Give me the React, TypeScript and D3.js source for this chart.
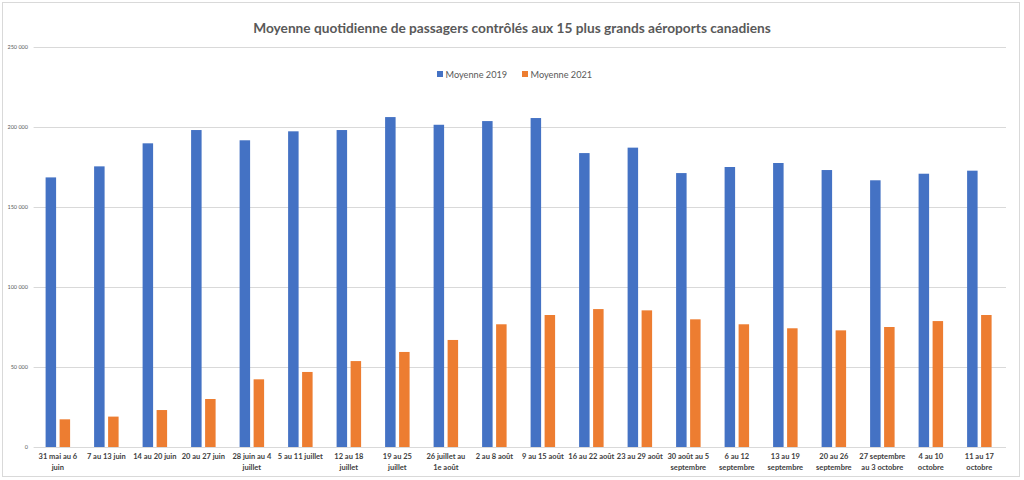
import React from "react";
import * as d3 from "d3";

const categories: string[] = [
  "31 mai au 6\njuin",
  "7 au 13 juin",
  "14 au 20 juin",
  "20 au 27 juin",
  "28 juin au 4\njuillet",
  "5 au 11 juillet",
  "12 au 18\njuillet",
  "19 au 25\njuillet",
  "26 juillet au\n1e août",
  "2 au 8 août",
  "9 au 15 août",
  "16 au 22 août",
  "23 au 29 août",
  "30 août au 5\nseptembre",
  "6 au 12\nseptembre",
  "13 au 19\nseptembre",
  "20 au 26\nseptembre",
  "27 septembre\nau 3 octobre",
  "4 au 10\noctobre",
  "11 au 17\noctobre",
];

const moyenne2019: number[] = [
  168500, 175400, 189800, 198100, 191700, 197300, 198100, 206200, 201400, 203700,
  205600, 183700, 187100, 171200, 175000, 177500, 173100, 166700, 170800, 172700,
];

const moyenne2021: number[] = [
  17300, 19000, 23100, 30000, 42300, 46900, 53700, 59400, 66900, 76700,
  82500, 86200, 85400, 79800, 76700, 74200, 72900, 75000, 78700, 82500,
];

const seriesNames: string[] = ["Moyenne 2019", "Moyenne 2021"];
const seriesColors: string[] = ["#4472C4", "#ED7D31"];
const yTicks: number[] = [0, 50000, 100000, 150000, 200000, 250000];

const title = "Moyenne quotidienne de passagers contrôlés aux 15 plus grands aéroports canadiens";

const W = 1024;
const H = 480;
const left = 33.6;
const right = 1003.6;
const top = 47;
const bottom = 447;
const font = "Lato, 'Open Sans', sans-serif";

export default function App() {
  const x0 = d3.scaleBand<string>().domain(categories).range([left, right]).paddingInner(0).paddingOuter(0);
  const bw = x0.bandwidth();
  const groupW = 24.5;
  const x1 = d3
    .scaleBand<string>()
    .domain(seriesNames)
    .range([(bw - groupW) / 2, (bw + groupW) / 2])
    .paddingInner(0.25)
    .paddingOuter(0);
  const y = d3.scaleLinear().domain([0, 250000]).range([bottom, top]);
  const fmt = (v: number) => d3.format(",")(v).replace(/,/g, " ");
  const data = [moyenne2019, moyenne2021];

  return (
    <svg
      width={W}
      height={H}
      style={{ position: "absolute", left: 0, top: 0, display: "block", background: "#fff" }}
    >
      <rect x={2.5} y={2.5} width={1017} height={474} fill="#fff" stroke="#d9d9d9" strokeWidth={1} />
      <text
        x={512}
        y={33}
        textAnchor="middle"
        fontFamily={font}
        fontWeight="bold"
        fontSize={13.7}
        fill="#595959"
      >
        {title}
      </text>
      {/* legend */}
      {seriesNames.map((s, i) => {
        const lx = i === 0 ? 437 : 522;
        return (
          <g key={s}>
            <rect x={lx} y={71} width={6} height={6} fill={seriesColors[i]} />
            <text x={lx + 8.5} y={77.5} fontFamily={font} fontSize={9.2} fill="#595959">
              {s}
            </text>
          </g>
        );
      })}
      {/* gridlines */}
      {yTicks.map((t) => (
        <g key={t}>
          <line x1={left} x2={1006} y1={y(t) + 0.5} y2={y(t) + 0.5} stroke="#d9d9d9" strokeWidth={1} />
          <text
            x={28}
            y={y(t)}
            dy="0.35em"
            textAnchor="end"
            fontFamily={font}
            fontSize={5.5}
            fill="#595959"
          >
            {fmt(t)}
          </text>
        </g>
      ))}
      {/* bars */}
      {categories.map((c, ci) => (
        <g key={c} transform={`translate(${x0(c)},0)`}>
          {seriesNames.map((s, si) => {
            const v = data[si][ci];
            return (
              <rect
                key={s}
                x={x1(s)}
                y={y(v)}
                width={x1.bandwidth()}
                height={y(0) - y(v)}
                fill={seriesColors[si]}
              />
            );
          })}
        </g>
      ))}
      {/* x labels */}
      {categories.map((c) => {
        const lines = c.split("\n");
        const cx = (x0(c) as number) + bw / 2;
        return (
          <text
            key={c}
            x={cx}
            y={459}
            textAnchor="middle"
            fontFamily={font}
            fontSize={7.5}
            fontWeight="bold"
            fill="#404040"
          >
            {lines.map((l, li) => (
              <tspan key={li} x={cx} dy={li === 0 ? 0 : 10.5}>
                {l}
              </tspan>
            ))}
          </text>
        );
      })}
    </svg>
  );
}
